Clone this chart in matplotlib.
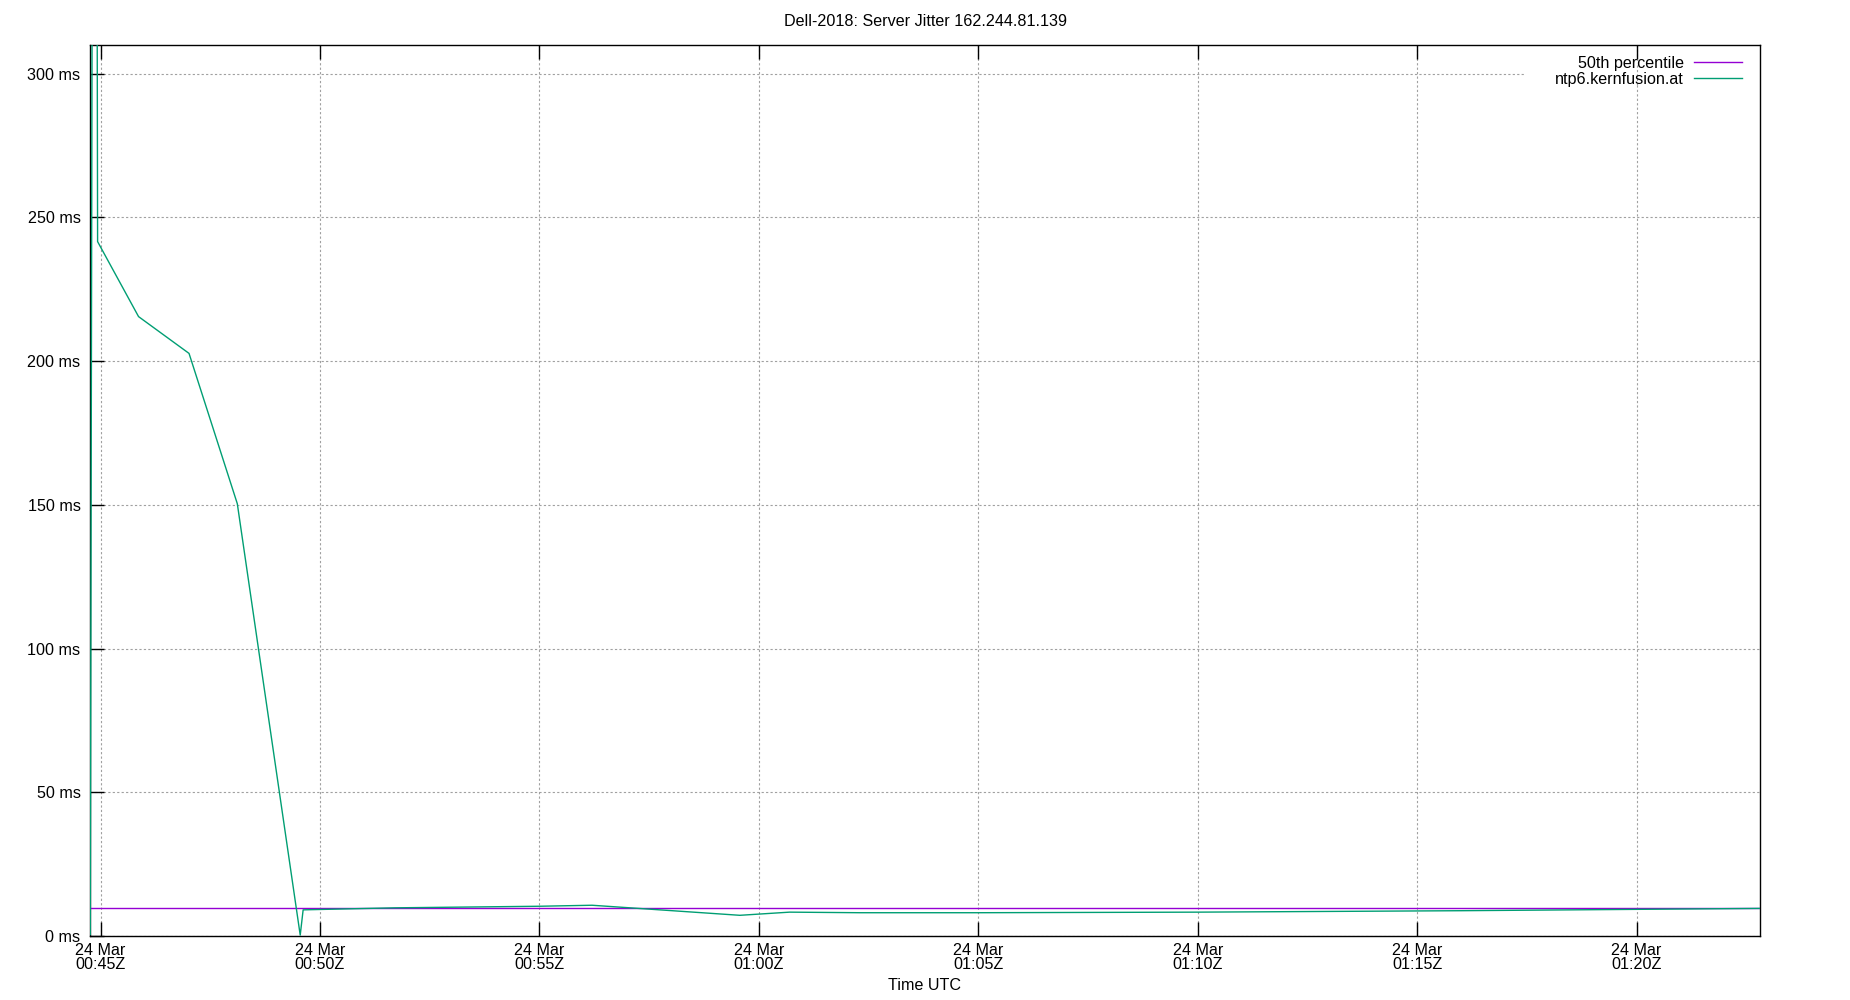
import matplotlib
matplotlib.use("Agg")
import matplotlib.pyplot as plt
import matplotlib.dates as mdates
from matplotlib.patches import Rectangle
import pandas as pd

# data (times UTC, jitter in ms)
DAY = "2018-03-24 "
jitter_times = [
    "00:44:46", "00:44:50", "00:44:54", "00:44:56", "00:45:52", "00:47:01",
    "00:48:07", "00:49:33", "00:49:37", "00:51:42", "00:55:00", "00:56:12",
    "00:59:34", "01:00:42", "01:02:18", "01:05:00", "01:10:00", "01:16:00",
    "01:22:48",
]
jitter_ms = [
    0.5, 520.0, 520.0, 241.6, 215.5, 202.7,
    150.4, 0.3, 9.1, 9.8, 10.35, 10.7,
    7.2, 8.3, 8.1, 8.1, 8.3, 8.8,
    9.6,
]
p50_times = ["00:44:46", "01:22:48"]
p50_ms = [9.64, 9.64]

server_name = "ntp6.kernfusion.at"
title = "Dell-2018: Server Jitter 162.244.81.139"
y_ticks = [0, 50, 100, 150, 200, 250, 300]

COLORS = {
    'p50': '#9400d3',
    'server': '#009e73',
    'grid': '#a0a0a0',
}
FS = 11.6
GRID_STYLE = dict(color=COLORS['grid'], linestyle=(0, (2, 2)), linewidth=0.8)

plt.rcParams['font.family'] = ['Liberation Sans', 'DejaVu Sans']
plt.rcParams['font.size'] = FS

t_jit = pd.to_datetime([DAY + t for t in jitter_times])
t_p50 = pd.to_datetime([DAY + t for t in p50_times])

fig = plt.figure(figsize=(18.5, 10), dpi=100)
ax = fig.add_axes([0.0488, 0.064, 0.9023, 0.891])

ax.plot(t_p50, p50_ms, color=COLORS['p50'], linewidth=1.0, label='50th percentile', zorder=3)
ax.plot(t_jit, jitter_ms, color=COLORS['server'], linewidth=1.0, label=server_name, zorder=3)

ax.set_xlim(t_jit.min(), t_jit.max())
ax.set_ylim(0, 310)
ax.set_yticks(y_ticks)
ax.set_yticklabels([f"{v} ms" for v in y_ticks])

ax.xaxis.set_major_locator(mdates.MinuteLocator(byminute=range(0, 60, 5)))
ax.xaxis.set_major_formatter(mdates.DateFormatter('%d %b\n%H:%MZ'))
for lbl in ax.get_xticklabels():
    lbl.set_linespacing(0.95)

ax.tick_params(axis='x', direction='in', length=10, width=1, top=True, pad=5)
ax.tick_params(axis='y', direction='in', length=10, width=1, right=False, pad=7)
for s in ax.spines.values():
    s.set_linewidth(1.0)

ax.grid(True, **GRID_STYLE)

# gnuplot blanks the horizontal grid line behind the key text,
# vertical grid lines still run through it
KEY_X0 = 0.859
ax.add_patch(Rectangle((KEY_X0, 0.955), 1 - KEY_X0, 0.025, transform=ax.transAxes,
                       facecolor='white', edgecolor='none', zorder=2))
x0, x1 = ax.get_xlim()
for loc in ax.get_xticks():
    if (loc - x0) / (x1 - x0) > KEY_X0:
        ax.axvline(loc, ymin=0.955, ymax=0.98, zorder=2.5, **GRID_STYLE)

leg = ax.legend(loc='upper right', bbox_to_anchor=(1742 / 1850, 1 - 56 / 1000),
                bbox_transform=fig.transFigure, markerfirst=False, frameon=False,
                handlelength=3.0, handletextpad=0.6, labelspacing=0.05,
                borderpad=0, borderaxespad=0, fontsize=FS)

fig.text(0.5, 1 - 21 / 1000, title, ha='center', va='center', fontsize=FS)
fig.text(0.5, 1 - 986 / 1000, 'Time UTC', ha='center', va='center', fontsize=FS)

fig.savefig('out.png', dpi=100, facecolor='white')
